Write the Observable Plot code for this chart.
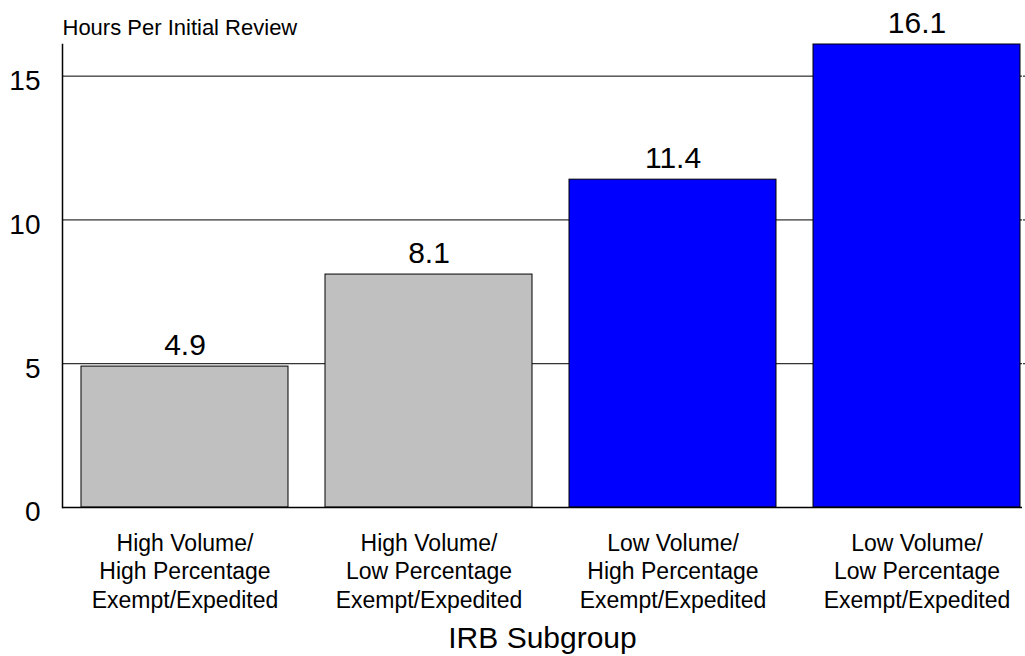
<!DOCTYPE html>
<html>
<head>
<meta charset="utf-8">
<script src="https://cdn.jsdelivr.net/npm/d3@7"></script>
<script src="https://cdn.jsdelivr.net/npm/@observablehq/plot@0.6"></script>
<style>
  html, body { margin: 0; padding: 0; background: #fff; }
  svg { display: block; font-family: "Liberation Sans", Arial, sans-serif; }
</style>
</head>
<body>
<div id="chart"></div>
<script>
const categories = [
  "High Volume/\nHigh Percentage\nExempt/Expedited",
  "High Volume/\nLow Percentage\nExempt/Expedited",
  "Low Volume/\nHigh Percentage\nExempt/Expedited",
  "Low Volume/\nLow Percentage\nExempt/Expedited"
];
const values = [4.9, 8.1, 11.4, 16.1];
const volume = ["High", "High", "Low", "Low"];
const yTicks = [0, 5, 10, 15];
const gridTicks = [5, 10, 15];
const yTitle = "Hours Per Initial Review";
const xTitle = "IRB Subgroup";

const data = categories.map((c, i) => ({cat: c, value: values[i], volume: volume[i]}));

const chart = Plot.plot({
  width: 1025,
  height: 656,
  marginLeft: 62,
  marginRight: 3,
  marginTop: 44,
  marginBottom: 149,
  style: {fontFamily: "Liberation Sans, Arial, sans-serif", background: "#fff"},
  x: {domain: categories, range: [62, 1039], paddingInner: 0.15, paddingOuter: 0.075, axis: null},
  y: {domain: [0, 16.1], axis: null},
  color: {domain: ["High", "Low"], range: ["#C0C0C0", "#0000FF"]},
  marks: [
    Plot.ruleY(gridTicks, {stroke: "#000", strokeWidth: 1}),
    Plot.barY(data, {x: "cat", y: "value", fill: "volume", stroke: "#000", strokeWidth: 1}),
    Plot.ruleY([0], {stroke: "#000", strokeWidth: 1.5}),
    Plot.frame({anchor: "left", stroke: "#000", strokeWidth: 1.5}),
    Plot.axisY({ticks: yTicks, anchor: "left", tickSize: 0, tickPadding: 22, fontSize: 28, dy: 5, label: null, fill: "#000"}),
    Plot.axisY({ticks: gridTicks, anchor: "right", tickSize: 3, tickFormat: () => "", label: null, stroke: "#000"}),
    Plot.text(data, {x: "cat", y: "value", text: d => d.value.toFixed(1), lineAnchor: "bottom", dy: -12, fontSize: 30, fill: "#000"}),
    Plot.text(data, {x: "cat", text: "cat", frameAnchor: "bottom", lineAnchor: "top", dy: 24, fontSize: 23, lineHeight: 1.22, fill: "#000"}),
    Plot.text([xTitle], {text: d => d, frameAnchor: "bottom", lineAnchor: "middle", dy: 131, fontSize: 30, fill: "#000"}),
    Plot.text([yTitle], {text: d => d, frameAnchor: "top-left", textAnchor: "start", lineAnchor: "middle", dy: -17, fontSize: 22, fill: "#000"})
  ]
});
document.getElementById("chart").appendChild(chart);
</script>
</body>
</html>
